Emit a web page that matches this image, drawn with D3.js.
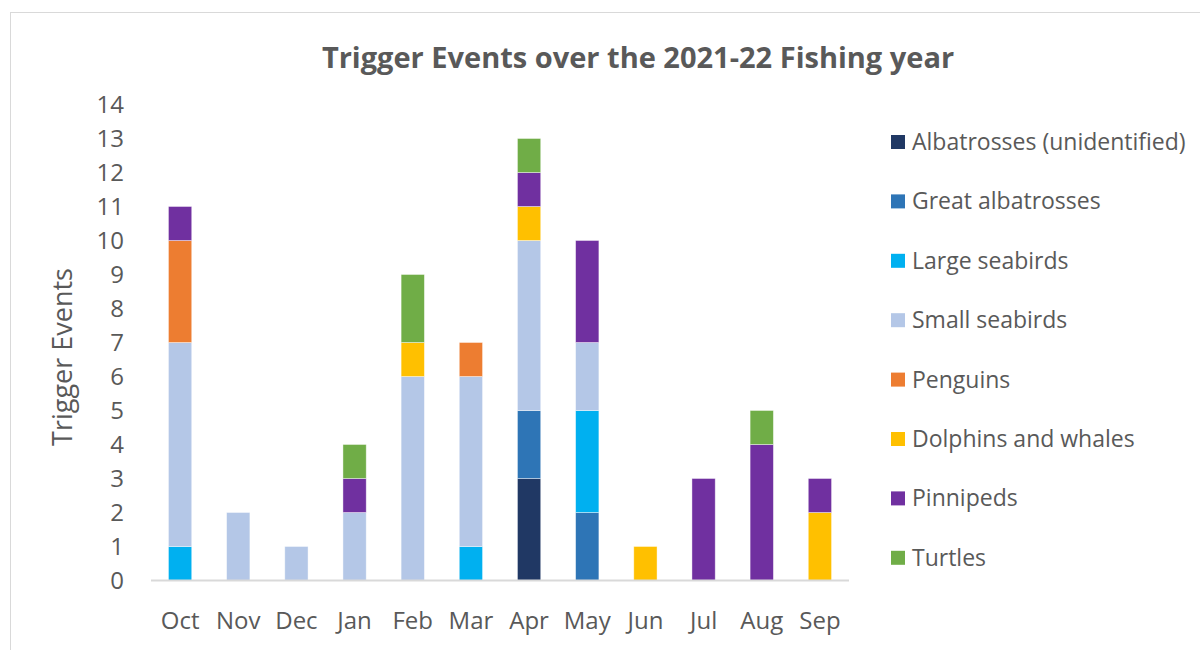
<!DOCTYPE html>
<html>
<head>
<meta charset="utf-8">
<script src="https://cdn.jsdelivr.net/npm/d3@7"></script>
<style>
  body { margin: 0; background: #fff; }
  text { font-family: "Open Sans", "Noto Sans", sans-serif; fill: #595959; }
</style>
</head>
<body>
<div id="chart"></div>
<script>
const months = ["Oct", "Nov", "Dec", "Jan", "Feb", "Mar", "Apr", "May", "Jun", "Jul", "Aug", "Sep"];
const species = ["Albatrosses (unidentified)", "Great albatrosses", "Large seabirds", "Small seabirds",
  "Penguins", "Dolphins and whales", "Pinnipeds", "Turtles"];
const colours = ["#203864", "#2E75B6", "#00B0F0", "#B4C7E7", "#ED7D31", "#FFC000", "#7030A0", "#70AD47"];

const albatrosses = [0, 0, 0, 0, 0, 0, 3, 0, 0, 0, 0, 0];
const greatAlbatrosses = [0, 0, 0, 0, 0, 0, 2, 2, 0, 0, 0, 0];
const largeSeabirds = [1, 0, 0, 0, 0, 1, 0, 3, 0, 0, 0, 0];
const smallSeabirds = [6, 2, 1, 2, 6, 5, 5, 2, 0, 0, 0, 0];
const penguins = [3, 0, 0, 0, 0, 1, 0, 0, 0, 0, 0, 0];
const dolphins = [0, 0, 0, 0, 1, 0, 1, 0, 1, 0, 0, 2];
const pinnipeds = [1, 0, 0, 1, 0, 0, 1, 3, 0, 3, 4, 1];
const turtles = [0, 0, 0, 1, 2, 0, 1, 0, 0, 0, 1, 0];
const yTicks = d3.range(0, 15);

const seriesValues = [albatrosses, greatAlbatrosses, largeSeabirds, smallSeabirds, penguins, dolphins, pinnipeds, turtles];

const width = 1200, height = 650;
const svg = d3.select("#chart").append("svg").attr("width", width).attr("height", height);

// chart frame
svg.append("rect")
  .attr("x", 10.5).attr("y", 12.5)
  .attr("width", 1200).attr("height", 650)
  .attr("fill", "none").attr("stroke", "#d9d9d9");

const rows = months.map((m, i) => {
  const r = { month: m };
  species.forEach((s, j) => { r[s] = seriesValues[j][i]; });
  return r;
});
const stacked = d3.stack().keys(species)(rows);

const x = d3.scaleBand().domain(months).range([151, 849]).paddingInner(0.6).paddingOuter(0.3);
const y = d3.scaleLinear().domain([0, 14]).range([580.5, 104.5]);
const colour = d3.scaleOrdinal().domain(species).range(colours);

svg.append("text")
  .attr("x", 638).attr("y", 68)
  .attr("text-anchor", "middle")
  .style("font-size", "29px").style("font-weight", "bold")
  .text("Trigger Events over the 2021-22 Fishing year");

svg.append("g").selectAll("g")
  .data(stacked)
  .join("g")
  .attr("fill", d => colour(d.key))
  .selectAll("rect")
  .data(d => d.filter(p => p[1] > p[0]))
  .join("rect")
  .attr("x", d => x(d.data.month))
  .attr("y", d => y(d[1]))
  .attr("width", x.bandwidth())
  .attr("height", d => y(d[0]) - y(d[1]))
  .attr("stroke", "#ffffff").attr("stroke-opacity", 0.5).attr("stroke-width", 0.8);

// x axis
const xAxis = svg.append("g")
  .attr("transform", `translate(0,${y(0)})`)
  .call(d3.axisBottom(x).tickSize(0).tickPadding(31));
xAxis.select(".domain").attr("stroke", "#d9d9d9").attr("stroke-width", 2).attr("d", "M151,0H849");
xAxis.selectAll("text").style("font-size", "24px").attr("fill", "#595959");

// y axis
const yAxis = svg.append("g")
  .attr("transform", "translate(124,0)")
  .call(d3.axisLeft(y).tickValues(yTicks).tickSize(0).tickPadding(0));
yAxis.select(".domain").remove();
yAxis.selectAll("text").style("font-size", "24px").attr("fill", "#595959");

svg.append("text")
  .attr("transform", "translate(72,357) rotate(-90)")
  .attr("text-anchor", "middle")
  .style("font-size", "27px")
  .text("Trigger Events");

// legend
const legend = svg.append("g").selectAll("g")
  .data(species)
  .join("g")
  .attr("transform", (d, i) => `translate(891,${142 + i * 59.4})`);
legend.append("rect")
  .attr("x", 0).attr("y", -7)
  .attr("width", 14).attr("height", 14)
  .attr("fill", d => colour(d));
legend.append("text")
  .attr("x", 21).attr("y", 0)
  .attr("dy", "0.35em")
  .style("font-size", "23px")
  .text(d => d);
</script>
</body>
</html>
